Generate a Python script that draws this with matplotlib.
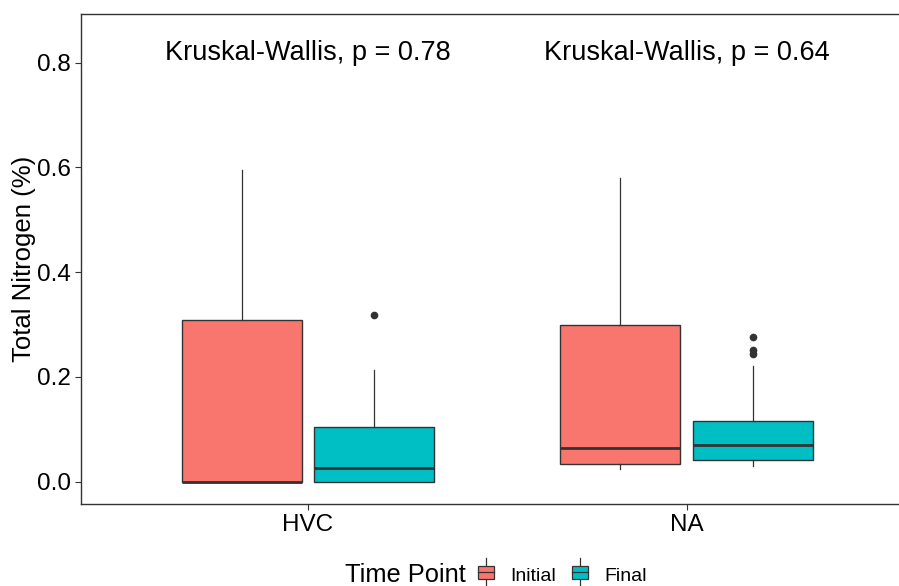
import matplotlib
matplotlib.use('Agg')
import matplotlib.pyplot as plt
from matplotlib.patches import Rectangle
from matplotlib.lines import Line2D
from matplotlib.legend_handler import HandlerBase

plt.rcParams['font.family'] = ['Liberation Sans', 'DejaVu Sans']

# data
sites = ['HVC', 'NA']
time_points = ['Initial', 'Final']
colors = {'Initial': '#F8766D', 'Final': '#00BFC4'}

# per site, per time point: whislo, q1, med, q3, whishi
stats_hvc_initial = [0.0, 0.0, 0.0, 0.308, 0.596]
stats_hvc_final = [0.0, 0.0, 0.026, 0.105, 0.213]
stats_na_initial = [0.024, 0.033, 0.064, 0.300, 0.579]
stats_na_final = [0.030, 0.041, 0.070, 0.115, 0.220]
fliers_hvc_initial = []
fliers_hvc_final = [0.319]
fliers_na_initial = []
fliers_na_final = [0.277, 0.252, 0.244]

p_values = ['0.78', '0.64']

raw = {
    ('HVC', 'Initial'): (stats_hvc_initial, fliers_hvc_initial),
    ('HVC', 'Final'): (stats_hvc_final, fliers_hvc_final),
    ('NA', 'Initial'): (stats_na_initial, fliers_na_initial),
    ('NA', 'Final'): (stats_na_final, fliers_na_final),
}

fig = plt.figure(figsize=(8.99, 5.86), dpi=100)
W, H = 899, 586
left, right, top, bottom = 80.7, 914, 14, 503.7
ax = fig.add_axes([left / W, (H - bottom) / H, (right - left) / W, (bottom - top) / H])

offset = 0.175
box_w = 0.317
edge = '#333333'

for i, site in enumerate(sites):
    for j, tp in enumerate(time_points):
        s, fl = raw[(site, tp)]
        st = dict(whislo=s[0], q1=s[1], med=s[2], q3=s[3], whishi=s[4], fliers=fl)
        pos = i + 1 + (offset if j else -offset)
        ax.bxp([st], positions=[pos], widths=box_w, patch_artist=True,
               showcaps=False,
               boxprops=dict(facecolor=colors[tp], edgecolor=edge, linewidth=1.0),
               medianprops=dict(color=edge, linewidth=2.0),
               whiskerprops=dict(color=edge, linewidth=0.9),
               flierprops=dict(marker='o', markerfacecolor=edge, markeredgecolor=edge,
                               markersize=4.5))

for i, p in enumerate(p_values):
    ax.text(i + 1, 0.818, f'Kruskal-Wallis, p = {p}', ha='center', va='center',
            fontsize=19.5, color='black')

ax.set_xlim(0.4, 2.6)
ax.set_ylim(-0.042, 0.893)
ax.set_xticks([1, 2])
ax.set_xticklabels(sites)
ax.set_yticks([0.0, 0.2, 0.4, 0.6, 0.8])
ax.set_yticklabels(['0.0', '0.2', '0.4', '0.6', '0.8'])
ax.tick_params(axis='both', labelsize=17.5, colors='#333333', labelcolor='black',
               length=4, width=0.8)
ax.tick_params(axis='y', pad=3)
ax.set_ylabel('Total Nitrogen (%)', fontsize=18.5, labelpad=1)
for sp in ax.spines.values():
    sp.set_color('#333333')
    sp.set_linewidth(1.0)


class BoxKey(HandlerBase):
    def create_artists(self, legend, orig, xd, yd, width, height, fontsize, trans):
        r = Rectangle((xd + width * 0.1, yd + height * 0.1), width * 0.8, height * 0.8,
                      facecolor=orig.get_facecolor(), edgecolor=edge, lw=0.9, transform=trans)
        cx = xd + width / 2
        l1 = Line2D([cx, cx], [yd - height * 0.45, yd + height * 0.1], color=edge, lw=0.9, transform=trans)
        l2 = Line2D([cx, cx], [yd + height * 0.9, yd + height * 1.45], color=edge, lw=0.9, transform=trans)
        m = Line2D([xd + width * 0.1, xd + width * 0.9], [yd + height / 2] * 2, color=edge, lw=0.9, transform=trans)
        return [l1, l2, r, m]


handles = [Rectangle((0, 0), 1, 1, facecolor=colors[tp]) for tp in time_points]
fig.text(345 / W, 1 - 575 / H, 'Time Point', fontsize=18.3, ha='left', va='center')
leg = fig.legend(handles, time_points, loc='center left', bbox_to_anchor=(476 / W, 1 - 576 / H),
                 ncol=2, frameon=False, fontsize=14, handler_map={Rectangle: BoxKey()},
                 handlelength=1.0, handleheight=0.85, handletextpad=0.75, columnspacing=0.75,
                 borderpad=0, borderaxespad=0)

fig.savefig('out.png', dpi=100)
